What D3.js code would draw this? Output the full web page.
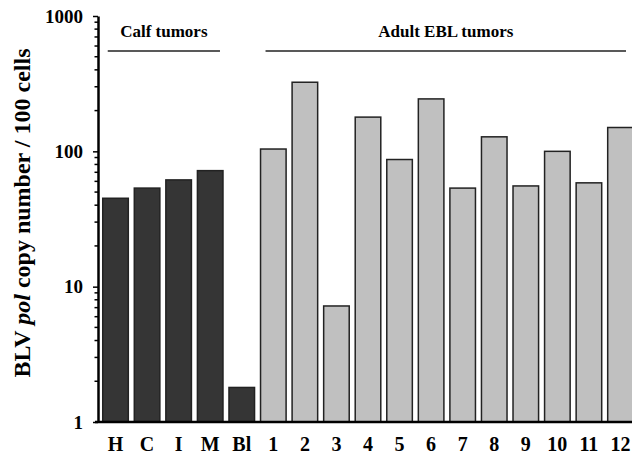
<!DOCTYPE html>
<html>
<head>
<meta charset="utf-8">
<script src="https://d3js.org/d3.v7.min.js"></script>
<style>
	body { margin: 0; background: #fff; }
	svg text { font-family: "Liberation Serif", "Times New Roman", serif; font-weight: bold; fill: #000; }
</style>
</head>
<body>
<div id="dataviz-container"></div>
<script>
// sample names along the x axis
var samples = ["H", "C", "I", "M", "Bl", "1", "2", "3", "4", "5", "6", "7", "8", "9", "10", "11", "12"];
// BLV pol copies per 100 cells
var copies = [45, 53.5, 61.5, 72, 1.8, 104, 324, 7.2, 179, 87, 244, 53.5, 128, 55.5, 100, 58.5, 150];
// which bars are calf tumours / blood (dark) vs adult EBL (light)
var dark = ["H", "C", "I", "M", "Bl"];
var calfGroup = ["H", "M"];
var adultGroup = ["1", "12"];
var yTicks = [1, 10, 100, 1000];

var width = 632,
	height = 459,
	margins = {"top": 16, "bottom": 37, "left": 98, "right": -6},
	serif = "'Liberation Serif', 'Times New Roman', serif";

var svg = d3.select("#dataviz-container")
	.append("svg")
	.attr("width", width)
	.attr("height", height);

var xScale = d3.scaleBand()
	.domain(samples)
	.range([margins.left, width - margins.right])
	.paddingInner(0.19)
	.paddingOuter(0.15);

var yScale = d3.scaleLog()
	.domain([1, 1000])
	.range([height - margins.bottom, margins.top]);

var base = yScale(1);

// bars
svg.selectAll("rect.bar")
	.data(samples)
	.enter()
	.append("rect")
	.attr("class", "bar")
	.attr("x", function(d) { return xScale(d); })
	.attr("width", xScale.bandwidth())
	.attr("y", function(d, i) { return yScale(copies[i]); })
	.attr("height", function(d, i) { return base - yScale(copies[i]); })
	.style("fill", function(d) { return dark.indexOf(d) >= 0 ? "#353535" : "#c0c0c0"; })
	.style("stroke", "#222")
	.style("stroke-width", 1.5);

// y axis with minor ticks
var minor = [];
for (var e = 0; e < 3; e++) {
	for (var m = 2; m <= 9; m++) minor.push(m * Math.pow(10, e));
}

var yAxis = d3.axisLeft(yScale)
	.tickValues(yTicks)
	.tickFormat(d3.format("d"))
	.tickSizeInner(5)
	.tickSizeOuter(0)
	.tickPadding(10);

var yLabel = svg.append("g")
	.attr("transform", "translate(" + margins.left + ",0)")
	.call(yAxis);

yLabel.selectAll("line.minor")
	.data(minor)
	.enter()
	.append("line")
	.attr("class", "minor")
	.attr("x1", -3.5)
	.attr("x2", 0)
	.attr("y1", function(d) { return yScale(d); })
	.attr("y2", function(d) { return yScale(d); })
	.style("stroke", "#000")
	.style("stroke-width", 1.5);

yLabel.select(".domain").style("stroke-width", 2.5);
yLabel.selectAll(".tick line").style("stroke-width", 1.5);
yLabel.selectAll(".tick text").style("font-size", "19px").style("font-family", serif);

// x axis
var xAxis = d3.axisBottom(xScale)
	.tickSize(0)
	.tickPadding(15);

var xLabel = svg.append("g")
	.attr("transform", "translate(0," + base + ")")
	.call(xAxis);

xLabel.select(".domain").remove();
xLabel.selectAll(".tick text").style("font-size", "20px").style("font-family", serif);

svg.append("line")
	.attr("x1", margins.left - 3)
	.attr("x2", width)
	.attr("y1", base)
	.attr("y2", base)
	.style("stroke", "#000")
	.style("stroke-width", 2.5);

// group brackets
function group(pair, label, x0, x1) {
	var a = x0 != null ? x0 : xScale(pair[0]) + 5;
	var b = x1 != null ? x1 : xScale(pair[1]) + xScale.bandwidth() - 3;
	svg.append("line")
		.attr("x1", a).attr("x2", b)
		.attr("y1", 51).attr("y2", 51)
		.style("stroke", "#222")
		.style("stroke-width", 1.5);
	svg.append("text")
		.attr("x", (a + b) / 2)
		.attr("y", 37)
		.style("text-anchor", "middle")
		.style("font-family", serif)
		.style("font-size", "17px")
		.text(label);
}
group(calfGroup, "Calf tumors");
group(adultGroup, "Adult EBL tumors", xScale("1") + 5, 626);

// y axis title
var title = svg.append("text")
	.attr("transform", "translate(30,213) rotate(-90)")
	.style("text-anchor", "middle")
	.style("font-family", serif)
	.style("font-size", "24px");
title.append("tspan").text("BLV ");
title.append("tspan").style("font-style", "italic").text("pol");
title.append("tspan").text(" copy number / 100 cells");
</script>
</body>
</html>
